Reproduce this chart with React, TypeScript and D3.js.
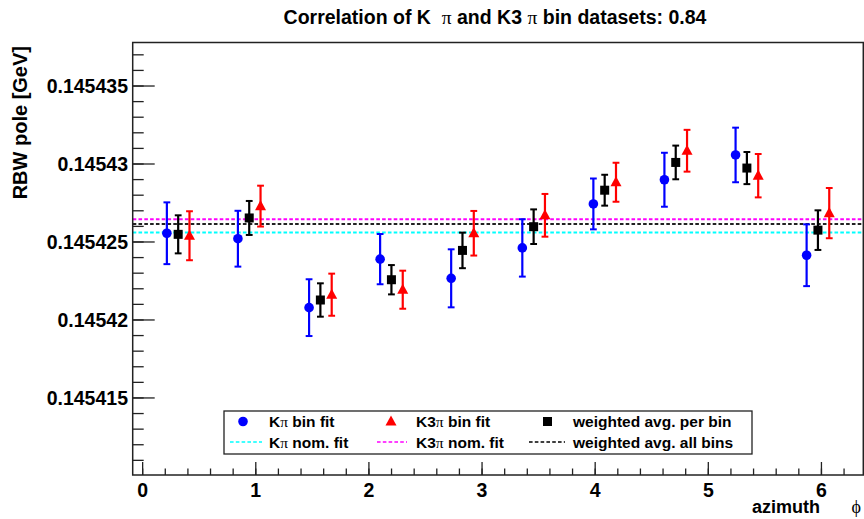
import React from "react";
import * as d3 from "d3";

// Azimuthal bins (bin centres in rad)
const binCenters = [0.314, 0.942, 1.571, 2.199, 2.827, 3.456, 4.084, 4.712, 5.341, 5.969];

// Kπ bin fit
const kpiVals = [0.14542556, 0.14542521, 0.14542079, 0.1454239, 0.14542267, 0.14542462, 0.14542744, 0.14542899, 0.14543058, 0.14542415];
const kpiErrs = [1.98e-6, 1.79e-6, 1.82e-6, 1.61e-6, 1.86e-6, 1.84e-6, 1.63e-6, 1.73e-6, 1.75e-6, 1.98e-6];

// K3π bin fit
const k3piVals = [0.1454254, 0.1454273, 0.14542162, 0.14542194, 0.14542556, 0.14542671, 0.14542883, 0.14543085, 0.14542925, 0.14542685];
const k3piErrs = [1.57e-6, 1.31e-6, 1.35e-6, 1.22e-6, 1.43e-6, 1.37e-6, 1.25e-6, 1.34e-6, 1.39e-6, 1.61e-6];

// weighted average per bin
const avgVals = [0.14542549, 0.14542654, 0.14542128, 0.14542258, 0.14542446, 0.14542598, 0.14542832, 0.1454301, 0.14542974, 0.14542576];
const avgErrs = [1.22e-6, 1.09e-6, 1.07e-6, 0.94e-6, 1.14e-6, 1.11e-6, 0.99e-6, 1.08e-6, 1.03e-6, 1.27e-6];

// nominal fits
const kpiNominal = 0.14542561;
const k3piNominal = 0.14542646;
const avgAllBins = 0.14542615;

const yTickValues = [0.145415, 0.14542, 0.145425, 0.14543, 0.145435];
const yTickLabels = ["0.145415", "0.14542", "0.145425", "0.14543", "0.145435"];
const xTickValues = [0, 1, 2, 3, 4, 5, 6];
const xTickLabels = ["0", "1", "2", "3", "4", "5", "6"];

const W = 864;
const H = 519;
const frame = { left: 132.7, right: 863.3, top: 42.5, bottom: 475 };

const FONT = "'Liberation Sans', Arial, Helvetica, sans-serif";
const SYM = "'Liberation Serif', 'DejaVu Serif', serif";

const x = d3.scaleLinear().domain([-0.088, 6.37]).range([frame.left, frame.right]);
const y = d3.scaleLinear().domain([0.14541006, 0.14543779]).range([frame.bottom, frame.top]);

const xMinor = d3.range(0, 32).map((i) => i * 0.2).filter((v) => v <= 6.37);
const yMinor = d3.range(145411, 145438).map((k) => k / 1e6);

const DASH = "3.6,2.2";

function ErrBar({ cx, v, e, color }: { cx: number; v: number; e: number; color: string }) {
  const y1 = y(v + e);
  const y2 = y(v - e);
  const cap = 3.4;
  return (
    <g stroke={color} strokeWidth={2.2}>
      <line x1={cx} x2={cx} y1={y1} y2={y2} />
      <line x1={cx - cap} x2={cx + cap} y1={y1} y2={y1} strokeWidth={2} />
      <line x1={cx - cap} x2={cx + cap} y1={y2} y2={y2} strokeWidth={2} />
    </g>
  );
}

function triPath(cx: number, cy: number, s: number) {
  const h = s * 0.92;
  return `M${cx},${cy - h * 0.6}L${cx + s / 2},${cy + h * 0.4}L${cx - s / 2},${cy + h * 0.4}Z`;
}

export default function App() {
  const blueOff = -0.1;
  const redOff = 0.1;
  return (
    <svg
      width={W}
      height={H}
      style={{ position: "absolute", left: 0, top: 0, background: "#fff" }}
      fontFamily={FONT}
    >
      <rect x={0} y={0} width={W} height={H} fill="#fff" />

      {/* title */}
      <text x={495} y={24} textAnchor="middle" fontSize={19.5} fontWeight="bold" fill="#000" xmlSpace="preserve">
        Correlation of K  <tspan fontFamily={SYM} fontWeight="normal">π</tspan> and K3 <tspan fontFamily={SYM} fontWeight="normal">π</tspan> bin datasets: 0.84
      </text>

      {/* nominal reference lines */}
      {[
        { v: k3piNominal, c: "#ff00ff" },
        { v: avgAllBins, c: "#222222" },
        { v: kpiNominal, c: "#00ffff" },
      ].map((d, i) => (
        <line key={i} x1={frame.left} x2={frame.right} y1={y(d.v)} y2={y(d.v)} stroke={d.c} strokeWidth={2} strokeDasharray={DASH} />
      ))}

      {/* error bars */}
      {binCenters.map((b, i) => (
        <g key={"eb" + i}>
          <ErrBar cx={x(b + blueOff)} v={kpiVals[i]} e={kpiErrs[i]} color="#0000ff" />
          <ErrBar cx={x(b)} v={avgVals[i]} e={avgErrs[i]} color="#000000" />
          <ErrBar cx={x(b + redOff)} v={k3piVals[i]} e={k3piErrs[i]} color="#ff0000" />
        </g>
      ))}

      {/* markers */}
      {binCenters.map((b, i) => (
        <g key={"mk" + i}>
          <circle cx={x(b + blueOff)} cy={y(kpiVals[i])} r={4.8} fill="#0000ff" />
          <rect x={x(b) - 4.5} y={y(avgVals[i]) - 4.5} width={9} height={9} fill="#000" />
          <path d={triPath(x(b + redOff), y(k3piVals[i]), 11)} fill="#ff0000" />
        </g>
      ))}

      {/* frame */}
      <rect
        x={frame.left}
        y={frame.top}
        width={frame.right - frame.left}
        height={frame.bottom - frame.top}
        fill="none"
        stroke="#222"
        strokeWidth={1.5}
      />

      {/* y axis ticks */}
      {yMinor.map((v, i) => (
        <line key={"ym" + i} x1={frame.left} x2={frame.left + 11} y1={y(v)} y2={y(v)} stroke="#222" strokeWidth={1.3} />
      ))}
      {yTickValues.map((v, i) => (
        <g key={"yt" + i}>
          <line x1={frame.left} x2={frame.left + 22} y1={y(v)} y2={y(v)} stroke="#222" strokeWidth={1.3} />
          <text x={128} y={y(v) + 7} textAnchor="end" fontSize={19.5} fontWeight="bold" fill="#000">
            {yTickLabels[i]}
          </text>
        </g>
      ))}

      {/* x axis ticks */}
      {xMinor.map((v, i) => (
        <line key={"xm" + i} x1={x(v)} x2={x(v)} y1={frame.bottom} y2={frame.bottom - 6.5} stroke="#222" strokeWidth={1.3} />
      ))}
      {xTickValues.map((v, i) => (
        <g key={"xt" + i}>
          <line x1={x(v)} x2={x(v)} y1={frame.bottom} y2={frame.bottom - 13} stroke="#222" strokeWidth={1.3} />
          <text x={x(v)} y={497} textAnchor="middle" fontSize={19.5} fontWeight="bold" fill="#000">
            {xTickLabels[i]}
          </text>
        </g>
      ))}

      {/* axis titles */}
      <text x={820} y={513} textAnchor="end" fontSize={18} fontWeight="bold" fill="#000">
        azimuth
      </text>
      <text x={861} y={513} textAnchor="end" fontSize={18} fontFamily={SYM} fill="#000">
        ϕ
      </text>
      <text
        transform="translate(27,46) rotate(-90)"
        textAnchor="end"
        fontSize={20}
        fontWeight="bold"
        fill="#000"
      >
        RBW pole [GeV]
      </text>

      {/* legend */}
      <g>
        <rect x={224} y={411} width={528} height={43} fill="#fff" stroke="#222" strokeWidth={1.3} />
        <circle cx={243} cy={421.5} r={4.8} fill="#0000ff" />
        <text x={269} y={427} fontSize={15.5} fontWeight="bold" fill="#000">
          K<tspan fontFamily={SYM} fontWeight="normal">π</tspan> bin fit
        </text>
        <path d={triPath(391, 421.5, 11)} fill="#ff0000" />
        <text x={416} y={427} fontSize={15.5} fontWeight="bold" fill="#000">
          K3<tspan fontFamily={SYM} fontWeight="normal">π</tspan> bin fit
        </text>
        <rect x={547.5 - 4.5} y={421.5 - 4.5} width={9} height={9} fill="#000" />
        <text x={573} y={427} fontSize={15.5} fontWeight="bold" fill="#000">
          weighted avg. per bin
        </text>

        <line x1={230} x2={262} y1={442} y2={442} stroke="#00ffff" strokeWidth={1.5} strokeDasharray={DASH} />
        <text x={269} y={448} fontSize={15.5} fontWeight="bold" fill="#000">
          K<tspan fontFamily={SYM} fontWeight="normal">π</tspan> nom. fit
        </text>
        <line x1={377} x2={407} y1={442} y2={442} stroke="#ff00ff" strokeWidth={1.5} strokeDasharray={DASH} />
        <text x={416} y={448} fontSize={15.5} fontWeight="bold" fill="#000">
          K3<tspan fontFamily={SYM} fontWeight="normal">π</tspan> nom. fit
        </text>
        <line x1={529} x2={565} y1={442} y2={442} stroke="#000" strokeWidth={1.5} strokeDasharray={DASH} />
        <text x={573} y={448} fontSize={15.5} fontWeight="bold" fill="#000">
          weighted avg. all bins
        </text>
      </g>
    </svg>
  );
}
